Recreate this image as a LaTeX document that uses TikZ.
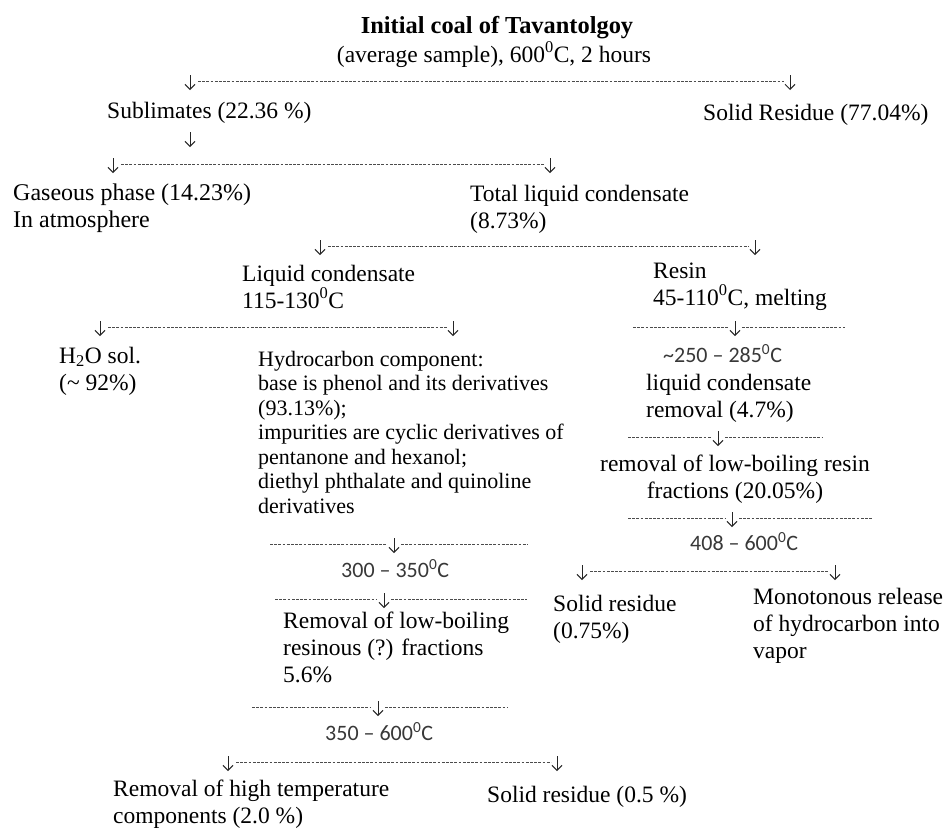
\documentclass[tikz,border=0pt]{standalone}
\usepackage{fontspec}
\setmainfont{Liberation Serif}
\newfontfamily\calib{Carlito}
\usetikzlibrary{arrows.meta}
\newcommand\downarr[1]{\draw[darr] ([yshift=6pt]#1) -- ([yshift=-9pt]#1);}
\begin{document}
\begin{tikzpicture}[x=1pt,y=-1pt,
  txt/.style={inner sep=0pt, anchor=base west, align=left, font=\fontsize{23.5}{27}\selectfont},
  ctxt/.style={txt, anchor=base, align=center},
  hc/.style={txt, font=\fontsize{22}{24.5}\selectfont},
  cal/.style={inner sep=0pt, anchor=base west, text=black!78, font=\calib\fontsize{22}{26}\selectfont},
  dashln/.style={draw=black!70, line width=0.9pt, dash pattern=on 2.8pt off 1.4pt},
  darr/.style={draw=black!85, line width=1pt, -{Straight Barb[length=5pt,width=10pt]}}]
\useasboundingbox (0,0) rectangle (951,831);
\fill[white] (0,0) rectangle (951,831);

% ---------- texts (multi-line nodes are placed by the baseline of their last line) ----------
\node[ctxt, font=\bfseries\fontsize{24.4}{27}\selectfont] (title) at (497,33) {Initial coal of Tavantolgoy};
\node[ctxt] (sub) at (494,62) {(average sample), 600\textsuperscript{0}C, 2 hours};
\node[txt] (subl) at (107,118) {Sublimates (22.36 \%)};
\node[txt] (solid1) at (703,120) {Solid Residue (77.04\%)};
\node[txt, font=\fontsize{24}{27}\selectfont] (gas) at (13,227) {Gaseous phase (14.23\%)\\In atmosphere};
\node[txt] (total) at (470,228) {Total liquid condensate\\(8.73\%)};
\node[txt] (liq) at (242,308) {Liquid condensate\\115-130\textsuperscript{0}C};
\node[txt] (resin) at (653,305) {Resin\\45-110\textsuperscript{0}C, melting};
\node[txt] (water) at (59,390) {H\textsubscript{2}O sol.\\(\textasciitilde{} 92\%)};
\node[hc] (hydro) at (258,513) {Hydrocarbon component:\\base is phenol and its derivatives\\(93.13\%);\\impurities are cyclic derivatives of\\pentanone and hexanol;\\diethyl phthalate and quinoline\\derivatives};
\node[cal] (t250) at (663,362) {\textasciitilde250 – 285\textsuperscript{0}C};
\node[txt] (lcr) at (646,417) {liquid condensate\\removal (4.7\%)};
\node[ctxt] (lowres) at (735,498) {removal of low-boiling resin\\fractions (20.05\%)};
\node[cal] (t408) at (690,550) {408 – 600\textsuperscript{0}C};
\node[txt] (solid2) at (553,638) {Solid residue\\(0.75\%)};
\node[txt] (mono) at (753,658) {Monotonous release\\of hydrocarbon into\\vapor};
\node[cal] (t300) at (341,577) {300 – 350\textsuperscript{0}C};
\node[txt] (lowb) at (283,682) {Removal of low-boiling\\resinous (?) fractions\\5.6\%};
\node[cal] (t350) at (325,740) {350 – 600\textsuperscript{0}C};
\node[txt] (high) at (113,823) {Removal of high temperature\\components (2.0 \%)};
\node[txt] (solid3) at (487,802) {Solid residue (0.5 \%)};

% ---------- brackets with end arrows ----------
\coordinate (b1l) at (190,81);  \coordinate (b1r) at (790,81);
\coordinate (bs)  at (190,138);
\coordinate (b2l) at (113,164); \coordinate (b2r) at (550,164);
\coordinate (b3l) at (320,246); \coordinate (b3r) at (755,246);
\coordinate (b4l) at (100,327); \coordinate (b4r) at (453,327);
\coordinate (b8l) at (582,571); \coordinate (b8r) at (835,571);
\coordinate (b11l) at (228,762); \coordinate (b11r) at (557,762);

\foreach \l/\r in {b1l/b1r,b2l/b2r,b3l/b3r,b4l/b4r,b8l/b8r,b11l/b11r}{
  \draw[dashln] ([xshift=8pt]\l) -- ([xshift=-6pt]\r);
  \downarr{\l}
  \downarr{\r}
}
\downarr{bs}

% ---------- brackets with middle arrow ----------
\coordinate (b5a) at (633,327); \coordinate (b5) at (735,327); \coordinate (b5b) at (845,327);
\coordinate (b6a) at (628,437); \coordinate (b6) at (718,437); \coordinate (b6b) at (823,437);
\coordinate (b7a) at (628,518); \coordinate (b7) at (732,518); \coordinate (b7b) at (873,518);
\coordinate (b12a) at (270,544); \coordinate (b12) at (394,544); \coordinate (b12b) at (528,544);
\coordinate (b9a) at (275,599); \coordinate (b9) at (384,599); \coordinate (b9b) at (527,599);
\coordinate (b10a) at (252,707); \coordinate (b10) at (378,707); \coordinate (b10b) at (508,707);

\foreach \a/\m/\b in {b5a/b5/b5b,b6a/b6/b6b,b7a/b7/b7b,b12a/b12/b12b,b9a/b9/b9b,b10a/b10/b10b}{
  \draw[dashln] (\a) -- ([xshift=-7pt]\m);
  \draw[dashln] ([xshift=7pt]\m) -- (\b);
  \downarr{\m}
}
\end{tikzpicture}
\end{document}
